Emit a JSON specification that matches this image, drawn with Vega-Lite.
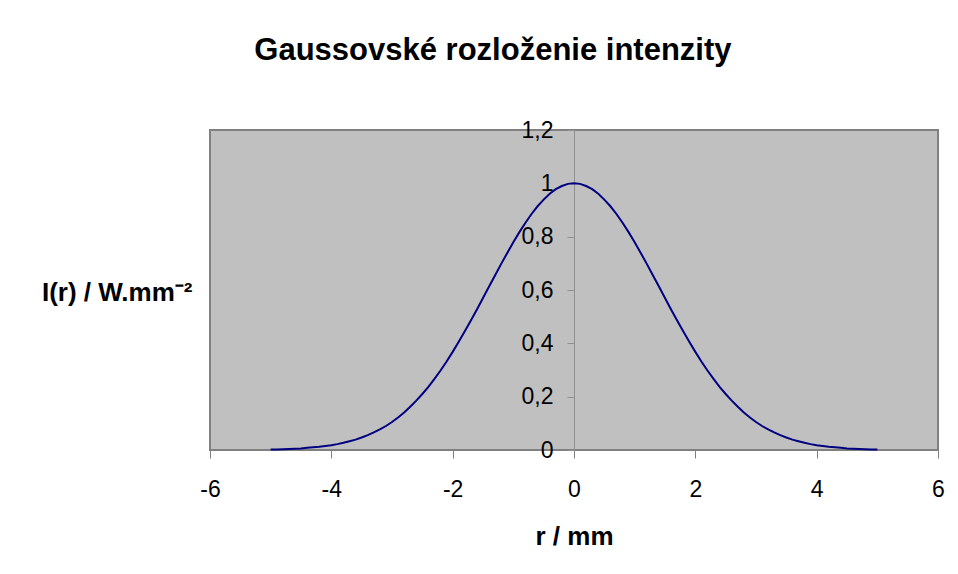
{
  "$schema": "https://vega.github.io/schema/vega-lite/v6.json",
  "width": 728,
  "height": 320,
  "autosize": "none",
  "padding": {"left": 210, "top": 130, "right": 20, "bottom": 124},
  "background": "white",
  "title": {
    "text": "Gaussovské rozloženie intenzity",
    "font": "Liberation Sans",
    "fontSize": 31,
    "fontWeight": "bold",
    "color": "black",
    "anchor": "middle",
    "frame": "bounds",
    "offset": 52
  },
  "data": {
    "values": [
      {"r": -5.0, "I": 0.002}, {"r": -4.9, "I": 0.002}, {"r": -4.8, "I": 0.003}, {"r": -4.7, "I": 0.004}, {"r": -4.6, "I": 0.005},
      {"r": -4.5, "I": 0.006}, {"r": -4.4, "I": 0.008}, {"r": -4.3, "I": 0.010}, {"r": -4.2, "I": 0.012}, {"r": -4.1, "I": 0.015},
      {"r": -4.0, "I": 0.018}, {"r": -3.9, "I": 0.022}, {"r": -3.8, "I": 0.027}, {"r": -3.7, "I": 0.033}, {"r": -3.6, "I": 0.039},
      {"r": -3.5, "I": 0.047}, {"r": -3.4, "I": 0.056}, {"r": -3.3, "I": 0.066}, {"r": -3.2, "I": 0.077}, {"r": -3.1, "I": 0.090},
      {"r": -3.0, "I": 0.105}, {"r": -2.9, "I": 0.122}, {"r": -2.8, "I": 0.141}, {"r": -2.7, "I": 0.162}, {"r": -2.6, "I": 0.185},
      {"r": -2.5, "I": 0.210}, {"r": -2.4, "I": 0.237}, {"r": -2.3, "I": 0.267}, {"r": -2.2, "I": 0.298}, {"r": -2.1, "I": 0.332},
      {"r": -2.0, "I": 0.368}, {"r": -1.9, "I": 0.406}, {"r": -1.8, "I": 0.445}, {"r": -1.7, "I": 0.486}, {"r": -1.6, "I": 0.527},
      {"r": -1.5, "I": 0.570}, {"r": -1.4, "I": 0.613}, {"r": -1.3, "I": 0.655}, {"r": -1.2, "I": 0.698}, {"r": -1.1, "I": 0.739},
      {"r": -1.0, "I": 0.779}, {"r": -0.9, "I": 0.817}, {"r": -0.8, "I": 0.852}, {"r": -0.7, "I": 0.885}, {"r": -0.6, "I": 0.914},
      {"r": -0.5, "I": 0.939}, {"r": -0.4, "I": 0.961}, {"r": -0.3, "I": 0.978}, {"r": -0.2, "I": 0.990}, {"r": -0.1, "I": 0.998},
      {"r": 0.0, "I": 1.000},
      {"r": 0.1, "I": 0.998}, {"r": 0.2, "I": 0.990}, {"r": 0.3, "I": 0.978}, {"r": 0.4, "I": 0.961}, {"r": 0.5, "I": 0.939},
      {"r": 0.6, "I": 0.914}, {"r": 0.7, "I": 0.885}, {"r": 0.8, "I": 0.852}, {"r": 0.9, "I": 0.817}, {"r": 1.0, "I": 0.779},
      {"r": 1.1, "I": 0.739}, {"r": 1.2, "I": 0.698}, {"r": 1.3, "I": 0.655}, {"r": 1.4, "I": 0.613}, {"r": 1.5, "I": 0.570},
      {"r": 1.6, "I": 0.527}, {"r": 1.7, "I": 0.486}, {"r": 1.8, "I": 0.445}, {"r": 1.9, "I": 0.406}, {"r": 2.0, "I": 0.368},
      {"r": 2.1, "I": 0.332}, {"r": 2.2, "I": 0.298}, {"r": 2.3, "I": 0.267}, {"r": 2.4, "I": 0.237}, {"r": 2.5, "I": 0.210},
      {"r": 2.6, "I": 0.185}, {"r": 2.7, "I": 0.162}, {"r": 2.8, "I": 0.141}, {"r": 2.9, "I": 0.122}, {"r": 3.0, "I": 0.105},
      {"r": 3.1, "I": 0.090}, {"r": 3.2, "I": 0.077}, {"r": 3.3, "I": 0.066}, {"r": 3.4, "I": 0.056}, {"r": 3.5, "I": 0.047},
      {"r": 3.6, "I": 0.039}, {"r": 3.7, "I": 0.033}, {"r": 3.8, "I": 0.027}, {"r": 3.9, "I": 0.022}, {"r": 4.0, "I": 0.018},
      {"r": 4.1, "I": 0.015}, {"r": 4.2, "I": 0.012}, {"r": 4.3, "I": 0.010}, {"r": 4.4, "I": 0.008}, {"r": 4.5, "I": 0.006},
      {"r": 4.6, "I": 0.005}, {"r": 4.7, "I": 0.004}, {"r": 4.8, "I": 0.003}, {"r": 4.9, "I": 0.002}, {"r": 5.0, "I": 0.002}
    ]
  },
  "mark": {"type": "line", "color": "#000080", "strokeWidth": 2, "interpolate": "linear"},
  "encoding": {
    "x": {
      "field": "r",
      "type": "quantitative",
      "scale": {"domain": [-6, 6], "nice": false, "zero": false},
      "axis": {
        "values": [-6, -4, -2, 0, 2, 4, 6],
        "title": "r / mm",
        "grid": false,
        "domain": false,
        "tickColor": "#808080",
        "tickSize": 8,
        "labelPadding": 31,
        "labelBaseline": "middle",
        "labelFont": "Liberation Sans",
        "labelFontSize": 23,
        "labelColor": "black",
        "labelFlush": false,
        "labelExpr": "'' + datum.value",
        "titleFont": "Liberation Sans",
        "titleFontSize": 26,
        "titleFontWeight": "bold",
        "titleColor": "black",
        "titleY": 86,
        "titleBaseline": "middle"
      }
    },
    "y": {
      "field": "I",
      "type": "quantitative",
      "scale": {"domain": [0, 1.2], "nice": false},
      "axis": {
        "values": [0, 0.2, 0.4, 0.6, 0.8, 1, 1.2],
        "offset": -364,
        "grid": false,
        "domainColor": "#909090",
        "tickColor": "#909090",
        "tickSize": 7,
        "labelPadding": 14,
        "labelFont": "Liberation Sans",
        "labelFontSize": 23,
        "labelColor": "black",
        "labelFlush": false,
        "labelExpr": "replace('' + datum.value, '.', ',')",
        "title": "I(r) / W.mm⁻²",
        "titleFont": "Liberation Sans",
        "titleFontSize": 26,
        "titleFontWeight": "bold",
        "titleColor": "black",
        "titleAngle": 0,
        "titleAlign": "right",
        "titleBaseline": "middle",
        "titleX": -382,
        "titleY": 162
      }
    }
  },
  "config": {
    "view": {"fill": "#C0C0C0", "stroke": "#808080", "strokeWidth": 2}
  }
}
